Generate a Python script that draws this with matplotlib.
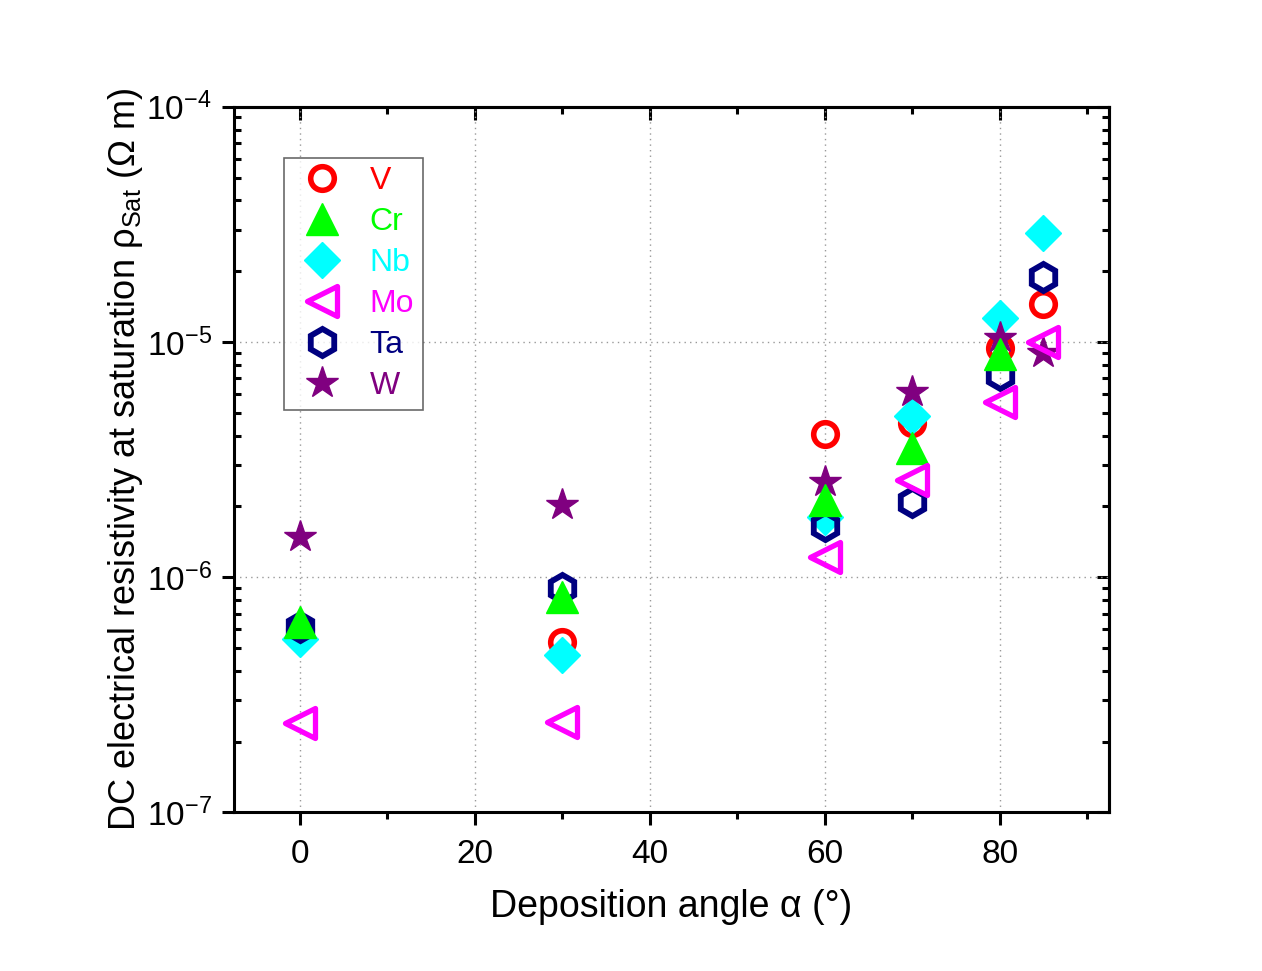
import matplotlib.pyplot as plt
from matplotlib.markers import MarkerStyle
from matplotlib.ticker import LogLocator, MultipleLocator, NullFormatter

plt.rcParams['font.family'] = ['Liberation Sans', 'DejaVu Sans']
plt.rcParams['mathtext.fontset'] = 'custom'
plt.rcParams['mathtext.rm'] = 'Liberation Sans'
plt.rcParams['mathtext.it'] = 'Liberation Sans:italic'
plt.rcParams['axes.unicode_minus'] = False

# deposition angles (deg) and saturation resistivity (Ohm m) per metal
angle = [0, 30, 60, 70, 80, 85]
angle_cr = [0, 30, 60, 70, 80]

rho_V = [6.0e-7, 5.30e-7, 4.06e-6, 4.52e-6, 9.42e-6, 1.45e-5]
rho_Cr = [6.44e-7, 8.22e-7, 2.13e-6, 3.53e-6, 8.89e-6]
rho_Nb = [5.45e-7, 4.66e-7, 1.80e-6, 4.84e-6, 1.26e-5, 2.91e-5]
rho_Mo = [2.39e-7, 2.43e-7, 1.22e-6, 2.58e-6, 5.55e-6, 1.00e-5]
rho_Ta = [6.14e-7, 8.99e-7, 1.65e-6, 2.08e-6, 7.23e-6, 1.89e-5]
rho_W = [1.48e-6, 2.03e-6, 2.54e-6, 6.15e-6, 1.04e-5, 8.97e-6]

fig = plt.figure(figsize=(12.62, 9.71), dpi=100)
ax = fig.add_axes([0.1854, 0.1634, 0.6934, 0.7267])

ax.plot(angle, rho_V, ls='none', marker='o', ms=17, mew=4, mec='#FF0000',
        mfc='none', label='V', zorder=3)
ax.plot(angle_cr, rho_Cr, ls='none', marker='^', ms=23, mew=1, mec='#00FF00',
        mfc='#00FF00', label='Cr', zorder=7)
ax.plot(angle, rho_Nb, ls='none', marker='D', ms=18, mew=1, mec='#00FFFF',
        mfc='#00FFFF', label='Nb', zorder=4)
ax.plot(angle, rho_Mo, ls='none', marker=MarkerStyle('<', joinstyle='round'),
        ms=21, mew=3.8, mec='#FF00FF', mfc='none', label='Mo', zorder=8)
ax.plot(angle, rho_Ta, ls='none', marker='h', ms=19.5, mew=4.2, mec='#000080',
        mfc='none', label='Ta', zorder=5)
ax.plot(angle, rho_W, ls='none', marker='*', ms=24, mew=1, mec='#800080',
        mfc='#800080', label='W', zorder=6)

ax.set_yscale('log')
ax.set_xlim(-7.5, 92.5)
ax.set_ylim(1e-7, 1e-4)

ax.xaxis.set_major_locator(MultipleLocator(20))
ax.xaxis.set_minor_locator(MultipleLocator(10))
ax.yaxis.set_major_locator(LogLocator(base=10, numticks=10))
ax.yaxis.set_minor_locator(LogLocator(base=10, subs=range(2, 10), numticks=10))
ax.yaxis.set_minor_formatter(NullFormatter())

# dotted grid on major ticks
ax.grid(True, which='major', ls=(0, (1, 3)), lw=1, color='#999999')
ax.set_axisbelow(True)

for s in ax.spines.values():
    s.set_linewidth(2.2)

ax.tick_params(which='both', width=2.2, pad=10)
ax.tick_params(axis='x', labelsize=24)
ax.tick_params(axis='y', labelsize=24, pad=7)
ax.tick_params(which='major', length=9)
ax.tick_params(which='minor', length=5)
ax.tick_params(axis='x', which='both', direction='out', top=False)
ax.tick_params(axis='y', which='major', direction='out', right=False)
ax.tick_params(axis='y', which='minor', direction='in', right=False)

# ticks on the top and right edges point inward
sec_x = ax.secondary_xaxis('top')
sec_x.xaxis.set_major_locator(MultipleLocator(20))
sec_x.xaxis.set_minor_locator(MultipleLocator(10))
sec_x.tick_params(which='both', direction='in', width=2.2, labeltop=False)
sec_x.tick_params(which='major', length=9)
sec_x.tick_params(which='minor', length=5)
sec_x.spines['top'].set_linewidth(2.2)

sec_y = ax.secondary_yaxis('right')
sec_y.set_yscale('log')
sec_y.yaxis.set_major_locator(LogLocator(base=10, numticks=10))
sec_y.yaxis.set_minor_locator(LogLocator(base=10, subs=range(2, 10), numticks=10))
sec_y.tick_params(which='both', direction='in', width=2.2, labelright=False)
sec_y.tick_params(which='major', length=9)
sec_y.tick_params(which='minor', length=5)
sec_y.spines['right'].set_linewidth(2.2)

ax.set_xlabel('Deposition angle \u03b1 (\u00b0)', fontsize=27, labelpad=14)
ax.set_ylabel('DC electrical resistivity at saturation \u03c1$_{\\mathrm{Sat}}$ (\u03a9 m)',
              fontsize=26, labelpad=1)

leg = ax.legend(loc='upper left', bbox_to_anchor=(0.057, 0.928), fontsize=23,
                frameon=True, fancybox=False, edgecolor='#444444',
                borderpad=0.28, labelspacing=0.34, handlelength=1.8,
                handletextpad=0.6, borderaxespad=0)
leg.get_frame().set_linewidth(1.2)
for txt, line in zip(leg.get_texts(), leg.get_lines()):
    txt.set_color(line.get_markeredgecolor())

fig.savefig('out.png', dpi=100, facecolor='white')
